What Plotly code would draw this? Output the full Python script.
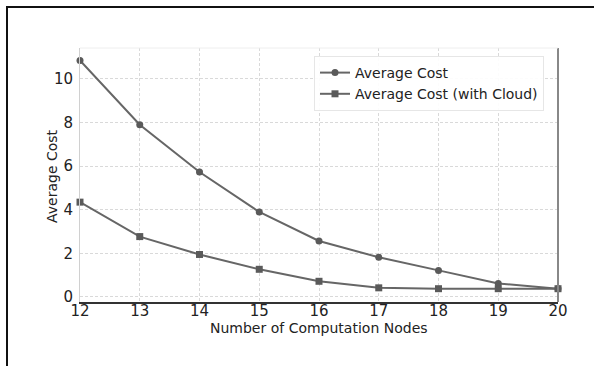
import plotly.graph_objects as go

nodes = [12, 13, 14, 15, 16, 17, 18, 19, 20]
avg_cost = [10.85, 7.9, 5.73, 3.9, 2.57, 1.82, 1.22, 0.62, 0.38]
avg_cost_cloud = [4.35, 2.77, 1.95, 1.27, 0.72, 0.42, 0.38, 0.38, 0.38]

W, H = 594, 366
L, R, T, B = 80, 36, 48, 64
pw, ph = W - L - R, H - T - B

def px(x):
    return (x - L) / pw

def py(y):
    return (H - B - y) / ph

font = dict(family="DejaVu Sans", size=14, color="#222")

fig = go.Figure()
fig.add_trace(go.Scatter(
    x=nodes, y=avg_cost, name="Average Cost", mode="lines+markers",
    line=dict(color="#666666", width=2),
    marker=dict(symbol="circle", size=7, color="#5a5a5a"),
    cliponaxis=False,
))
fig.add_trace(go.Scatter(
    x=nodes, y=avg_cost_cloud, name="Average Cost (with Cloud)", mode="lines+markers",
    line=dict(color="#666666", width=2),
    marker=dict(symbol="square", size=7, color="#5a5a5a"),
    cliponaxis=False,
))

fig.update_layout(
    width=W, height=H,
    margin=dict(l=L, r=R, t=T, b=B, pad=0),
    paper_bgcolor="white", plot_bgcolor="white",
    font=font,
    showlegend=True,
    legend=dict(
        x=px(314), y=py(56), xanchor="left", yanchor="top",
        bgcolor="rgba(255,255,255,0.9)", bordercolor="#e6e6e6", borderwidth=1,
        font=dict(family="DejaVu Sans", size=14, color="#222"),
        itemwidth=30, tracegroupgap=0,
    ),
    xaxis=dict(
        range=[12, 20], tickmode="array", tickvals=nodes,
        ticktext=[str(n) for n in nodes],
        showgrid=True, gridcolor="#d9d9d9", griddash="3px,2px", gridwidth=1,
        showline=True, linecolor="#333333", linewidth=2, mirror=False,
        ticks="", ticklabelstandoff=-6,
        tickfont=dict(family="DejaVu Sans", size=15, color="#222"),
        zeroline=False,
    ),
    yaxis=dict(
        range=[-0.23, 11.42], tickmode="array", tickvals=[0, 2, 4, 6, 8, 10],
        showgrid=True, gridcolor="#d9d9d9", griddash="3px,2px", gridwidth=1,
        showline=True, linecolor="#d0d0d0", linewidth=1,
        ticks="", ticklabelstandoff=3,
        tickfont=dict(family="DejaVu Sans", size=15, color="#222"),
        zeroline=False,
    ),
    annotations=[
        dict(text="Number of Computation Nodes", xref="paper", yref="paper",
             x=px(319), y=py(328), xanchor="center", yanchor="middle",
             showarrow=False, font=dict(family="DejaVu Sans", size=14, color="#222")),
        dict(text="Average Cost", xref="paper", yref="paper",
             x=px(52), y=py(176), xanchor="center", yanchor="middle", textangle=-90,
             showarrow=False, font=dict(family="DejaVu Sans", size=14, color="#222")),
    ],
    shapes=[
        dict(type="line", xref="paper", yref="paper", x0=1, x1=1, y0=0, y1=1,
             line=dict(color="#888888", width=2)),
        dict(type="line", xref="paper", yref="paper", x0=0, x1=1, y0=1, y1=1,
             line=dict(color="#eeeeee", width=1)),
        dict(type="path", xref="paper", yref="paper",
             path=f"M {px(7)} {py(366)} L {px(7)} {py(7)} L {px(594)} {py(7)}",
             line=dict(color="#111111", width=2)),
    ],
)

fig.write_html("out.html")
